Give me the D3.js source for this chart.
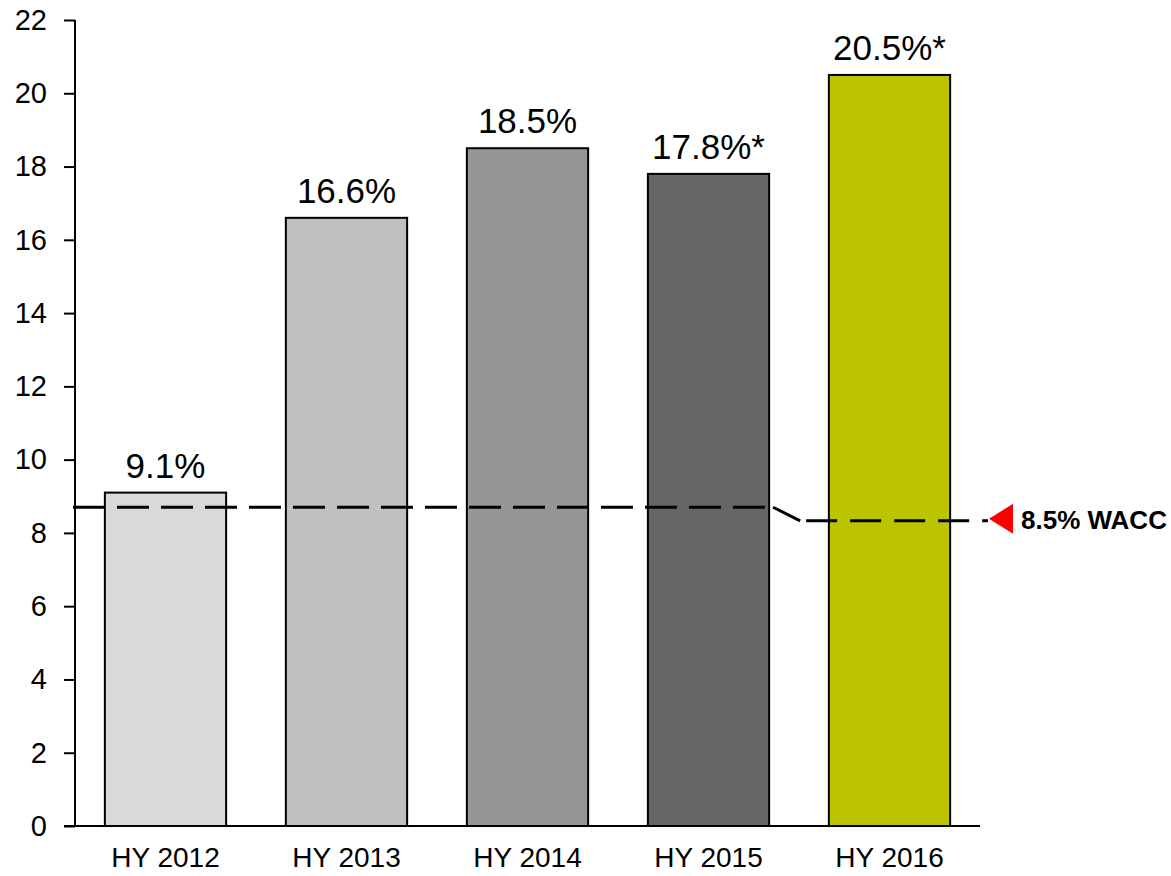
<!DOCTYPE html>
<html>
<head>
<meta charset="utf-8">
<script src="https://cdnjs.cloudflare.com/ajax/libs/d3/7.8.5/d3.min.js"></script>
<style>
  body { margin:0; background:#fff; }
  text { font-family: Arial, "Liberation Sans", sans-serif; }
</style>
</head>
<body>
<div id="chart"></div>
<script>
// data
var categories = ["HY 2012", "HY 2013", "HY 2014", "HY 2015", "HY 2016"];
var values = [9.1, 16.6, 18.5, 17.8, 20.5];
var valueLabels = ["9.1%", "16.6%", "18.5%", "17.8%*", "20.5%*"];
var barColors = ["#d9d9d9", "#c0c0c0", "#969696", "#666666", "#bcc400"];
var yTicks = [0, 2, 4, 6, 8, 10, 12, 14, 16, 18, 20, 22];
var waccOld = 8.7;   // line through HY 2012 - HY 2015
var waccNew = 8.33;  // line at HY 2016
var waccLabel = "8.5% WACC";

var W = 1171, H = 876;
var mLeft = 75, mRight = 980, mTop = 20, mBottom = 826;

var svg = d3.select("#chart").append("svg")
  .attr("width", W).attr("height", H);

var x = d3.scaleBand().domain(categories).range([mLeft, mRight]).paddingInner(0.33).paddingOuter(0.165);
var y = d3.scaleLinear().domain([0, 22]).range([mBottom, mTop]);

// bars
svg.selectAll("rect.bar").data(values).enter().append("rect")
  .attr("class", "bar")
  .attr("x", function(d, i){ return x(categories[i]); })
  .attr("y", function(d){ return y(d); })
  .attr("width", x.bandwidth())
  .attr("height", function(d){ return mBottom - y(d); })
  .attr("fill", function(d, i){ return barColors[i]; })
  .attr("stroke", "#000").attr("stroke-width", 2);

// value labels
svg.selectAll("text.val").data(values).enter().append("text")
  .attr("class", "val")
  .attr("x", function(d, i){ return x(categories[i]) + x.bandwidth()/2; })
  .attr("y", function(d){ return y(d) - 15; })
  .attr("text-anchor", "middle")
  .attr("font-size", 35)
  .attr("fill", "#000")
  .text(function(d, i){ return valueLabels[i]; });

// y axis
var yAxis = svg.append("g").attr("transform", "translate(" + mLeft + ",0)")
  .call(d3.axisLeft(y).tickValues(yTicks).tickSize(11).tickPadding(17));
yAxis.select(".domain").attr("stroke", "#000").attr("stroke-width", 2).attr("d", "M0," + mTop + "V" + mBottom);
yAxis.selectAll(".tick line").attr("stroke", "#000").attr("stroke-width", 2);
yAxis.selectAll(".tick text").attr("font-size", 29).attr("fill", "#000")
  .attr("font-family", "Arial, 'Liberation Sans', sans-serif");

// x axis
var xAxis = svg.append("g").attr("transform", "translate(0," + mBottom + ")")
  .call(d3.axisBottom(x).tickSize(0).tickPadding(21));
xAxis.select(".domain").attr("stroke", "#000").attr("stroke-width", 2).attr("d", "M" + (mLeft - 11) + ",0H" + mRight);
xAxis.selectAll(".tick text").attr("font-size", 28).attr("fill", "#000")
  .attr("font-family", "Arial, 'Liberation Sans', sans-serif");

// WACC dashed line
var last = categories[categories.length - 1];
var prev = categories[categories.length - 2];
var stepGap = (x(last) - x(prev) - x.bandwidth());
var bend1 = x(prev) + x.bandwidth() + 2;
var bend2 = x(last) - stepGap * 0.38;
var lineEnd = mRight + 8;
svg.append("path")
  .attr("d", d3.line()([[mLeft - 2, y(waccOld)], [bend1 - 5, y(waccOld)]]))
  .attr("stroke", "#000").attr("stroke-width", 3).attr("fill", "none")
  .attr("stroke-dasharray", "32,12");
svg.append("path")
  .attr("d", d3.line()([[bend1 + 2, y(waccOld)], [bend2 - 6, y(waccNew)]]))
  .attr("stroke", "#000").attr("stroke-width", 3).attr("fill", "none");
svg.append("path")
  .attr("d", d3.line()([[bend2, y(waccNew)], [lineEnd, y(waccNew)]]))
  .attr("stroke", "#000").attr("stroke-width", 3).attr("fill", "none")
  .attr("stroke-dasharray", "31,13");

// red marker triangle
var tx = lineEnd + 1, ty = y(waccNew) - 2;
svg.append("path")
  .attr("d", "M" + tx + "," + ty + "L" + (tx + 24) + "," + (ty - 15) + "L" + (tx + 24) + "," + (ty + 15) + "Z")
  .attr("fill", "#ff0000");
svg.append("text")
  .attr("x", tx + 32).attr("y", ty + 10)
  .attr("font-size", 26).attr("font-weight", "bold").attr("fill", "#000")
  .text(waccLabel);
</script>
</body>
</html>
